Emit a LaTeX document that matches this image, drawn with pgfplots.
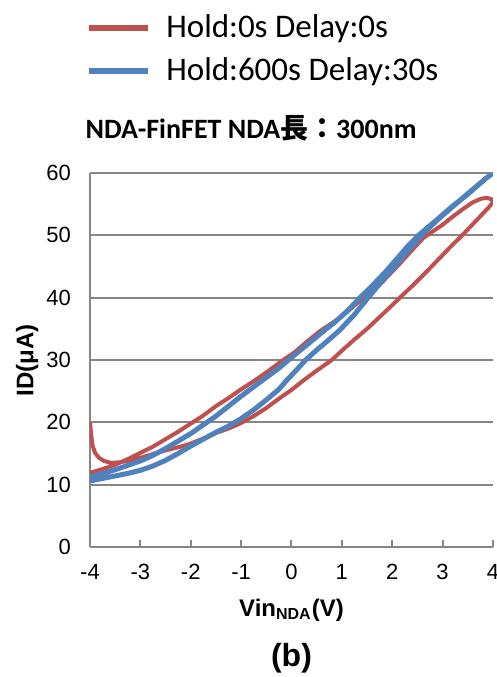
\documentclass[border=0pt]{standalone}
\usepackage{pgfplots}
\pgfplotsset{compat=1.18}
\usepackage{fontspec}
\setmainfont{Liberation Sans}
\newfontfamily\calibri{Carlito}
\newfontfamily\cjk{Noto Sans CJK JP}
\definecolor{xred}{HTML}{C0504D}
\definecolor{xblue}{HTML}{4F81BD}
\definecolor{xgray}{HTML}{868686}
\begin{document}
\begin{tikzpicture}
\begin{axis}[name=ax, scale only axis, width=201.5pt, height=187pt,
  xmin=-4, xmax=4, ymin=0, ymax=60,
  axis x line*=bottom, axis y line*=left,
  axis line style={xgray, line width=1pt},
  xtick={-4,-3,-2,-1,0,1,2,3,4}, xticklabels={-4,-3,-2,-1,0,1,2,3,4},
  ytick={0,10,20,30,40,50,60}, yticklabels={0,10,20,30,40,50,60},
  ymajorgrids, major grid style={xgray, line width=1pt},
  x tick style={xgray, line width=1pt}, major tick length=3.5pt, tick align=inside,
  y tick style={draw=none},
  tick label style={font=\fontsize{11}{13}\selectfont},
  xticklabel style={yshift=-5pt},
  yticklabel style={xshift=-6pt},
  clip mode=individual,
  legend style={at={(-0.025,1.445)}, anchor=north west, draw=none, fill=none,
    font=\calibri\fontsize{16.5}{19}\selectfont, row sep=4.5pt},
  legend cell align=left,
  legend image code/.code={\draw[#1] (0pt,0pt) -- (29.5pt,0pt); \path (35pt,0pt);},
]
\addlegendimage{xred, line width=3pt}
\addlegendentry{Hold:0s Delay:0s}
\addlegendimage{xblue, line width=3pt}
\addlegendentry{Hold:600s Delay:30s}

\addplot[xred, line width=2pt, forget plot] coordinates {
(-4,20.0) (-3.98,18.2) (-3.95,16.3) (-3.9,15.1) (-3.82,14.3) (-3.72,13.8) (-3.58,13.5) (-3.4,13.6) (-3.2,13.9) (-3.0,14.3) (-2.8,14.8) (-2.5,15.5) (-2.2,16.1) (-2.0,16.6) (-1.75,17.4) (-1.5,18.3) (-1.25,19.0) (-1.0,19.9) (-0.75,21.0) (-0.5,22.3) (-0.25,23.8) (0,25.2) (0.25,26.8) (0.5,28.3) (0.8,30.0) (1.0,31.5) (1.25,33.3) (1.5,35.0) (1.75,36.9) (2.0,38.8) (2.15,40.0) (2.4,41.9) (2.65,43.9) (2.9,46.0) (3.15,48.1) (3.4,50.1) (3.6,51.8) (3.8,53.5) (3.93,54.6) (4.0,55.4)
(3.97,55.8) (3.88,56.0) (3.77,55.9) (3.6,55.3) (3.4,54.2) (3.2,53.0) (3.0,51.7) (2.8,50.6) (2.62,49.6) (2.4,47.7) (2.2,45.9) (2.05,44.6) (1.8,42.5) (1.6,41.1) (1.43,40.0) (1.2,38.4) (1.0,37.0) (0.8,35.9) (0.56,34.6) (0.3,32.9) (0.07,31.3) (-0.2,29.8) (-0.5,28.0) (-0.75,26.6) (-1.0,25.3) (-1.25,23.9) (-1.5,22.6) (-1.75,21.1) (-2.0,19.8) (-2.25,18.5) (-2.5,17.3) (-2.75,16.1) (-3.0,15.1) (-3.25,14.1) (-3.5,13.2) (-3.75,12.5) (-4.0,11.9)
};
\addplot[xblue, line width=2.5pt, forget plot] coordinates {
(-4,10.6) (-3.75,11.0) (-3.5,11.4) (-3.25,11.8) (-3.0,12.3) (-2.75,13.0) (-2.5,13.9) (-2.25,15.0) (-2.0,16.2) (-1.75,17.3) (-1.5,18.4) (-1.25,19.4) (-1.0,20.6) (-0.75,22.0) (-0.5,23.6) (-0.25,25.3) (-0.1,26.7) (0.1,28.4) (0.28,30.0) (0.5,31.6) (0.75,33.3) (0.96,34.8) (1.25,37.3) (1.52,40.0) (1.75,42.2) (2.05,45.0) (2.3,47.4) (2.58,50.0) (2.9,52.5) (3.2,54.6) (3.5,56.7) (3.84,59.0) (4.0,60.0)
(3.84,59.0) (3.5,56.6) (3.2,54.7) (2.9,52.6) (2.52,50.0) (2.3,48.2) (2.1,46.3) (1.85,44.0) (1.6,41.9) (1.36,40.0) (1.1,37.8) (0.85,36.0) (0.6,34.4) (0.3,32.4) (0.0,30.4) (-0.25,28.7) (-0.5,27.2) (-0.75,25.7) (-1.0,24.2) (-1.25,22.6) (-1.5,21.0) (-1.75,19.6) (-2.0,18.2) (-2.25,17.0) (-2.5,15.8) (-2.75,14.7) (-3.0,13.8) (-3.25,13.1) (-3.5,12.4) (-3.75,11.8) (-4.0,11.2)
};
\node[font=\calibri\bfseries\fontsize{14}{16}\selectfont] at (rel axis cs:0.4,1.12) {NDA-FinFET NDA{\cjk 長：}300nm};
\node[rotate=90, font=\bfseries\fontsize{12}{14}\selectfont] at (rel axis cs:-0.156,0.5) {ID(μA)};
\node[font=\bfseries\fontsize{12}{14}\selectfont] at (rel axis cs:0.5,-0.168) {Vin\textsubscript{NDA}(V)};
\node[font=\bfseries\fontsize{16}{18}\selectfont] at (rel axis cs:0.5,-0.297) {(b)};
\end{axis}
\pgfresetboundingbox
\path (ax.south west) ++(-45pt,-65pt) rectangle ++(248.5pt,338.5pt);
\end{tikzpicture}
\end{document}
